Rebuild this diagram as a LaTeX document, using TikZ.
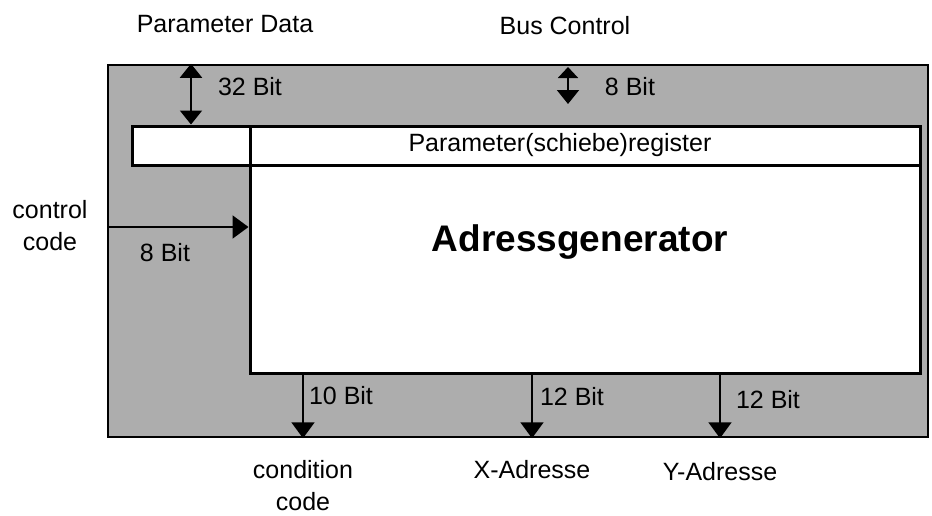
\documentclass[tikz,border=0pt]{standalone}
\usepackage{fontspec}
\setmainfont{Liberation Sans}
\usepackage{xcolor}
\usepackage{tikz}
\usetikzlibrary{arrows.meta, positioning, calc}

\begin{document}
\begin{tikzpicture}[x=1pt, y=-1pt,
    frame/.style={rectangle, draw, line width=2.5pt, fill=black!32, minimum width=820pt, minimum height=372pt},
    regbox/.style={rectangle, draw, line width=3pt, fill=white, minimum height=39pt},
    genbox/.style={rectangle, draw, line width=3pt, fill=white, minimum width=670pt, minimum height=208pt},
    lbl/.style={font=\fontsize{25}{32}\selectfont, align=center, inner sep=1pt},
    title/.style={font=\fontsize{37}{40}\selectfont\bfseries},
    arrow/.style={-{Triangle[length=16pt, width=23pt]}, line width=2pt},
    dblarrow/.style={{Triangle[length=14pt, width=22pt]}-{Triangle[length=14pt, width=22pt]}, line width=2pt},
    smallarrow/.style={{Triangle[length=11pt, width=20pt]}-{Triangle[length=14pt, width=22pt]}, line width=2pt}
]
\useasboundingbox (0,0) rectangle (932,515);
\node[frame] (frame) at (518,251) {};
\node[regbox, minimum width=118pt] (regL) at (191,145.5) {};
\node[regbox, minimum width=670pt] (reg) at (585,145.5) {};
\node[genbox] (gen) at (585,269) {};
\node[lbl] (regtext) at (560,145) {Parameter(schiebe)register};
\node[title] (gentitle) at (580,242) {Adressgenerator};

% inputs
\node[lbl] (pdata) at (225,24) {Parameter Data};
\node[lbl] (bus) at (565,26) {Bus Control};
\node[lbl] (ctrl) at (50,226) {control\\code};
\node[lbl] (b32) at (250,87) {32 Bit};
\node[lbl] (b8top) at (630,87) {8 Bit};
\node[lbl] (b8left) at (165,253) {8 Bit};
\coordinate (bc1) at (568,67);
\coordinate (bc2) at (568,104);
\coordinate (cc) at (108,227);

% outputs
\node[lbl] (cond) at (303,486) {condition\\code};
\node[lbl] (xadr) at (532,470) {X-Adresse};
\node[lbl] (yadr) at (720,472) {Y-Adresse};
\node[lbl] (b10) at (341,396) {10 Bit};
\node[lbl] (b12x) at (572,397) {12 Bit};
\node[lbl] (b12y) at (768,400) {12 Bit};

\draw[dblarrow] (regL.north |- frame.north) -- (regL.north);
\draw[smallarrow] (bc1) -- (bc2);
\draw[arrow] (cc) -- (cc -| gen.west);
\draw[arrow] (gen.south -| cond) -- (frame.south -| cond);
\draw[arrow] (gen.south -| xadr) -- (frame.south -| xadr);
\draw[arrow] (gen.south -| yadr) -- (frame.south -| yadr);
\end{tikzpicture}
\end{document}
